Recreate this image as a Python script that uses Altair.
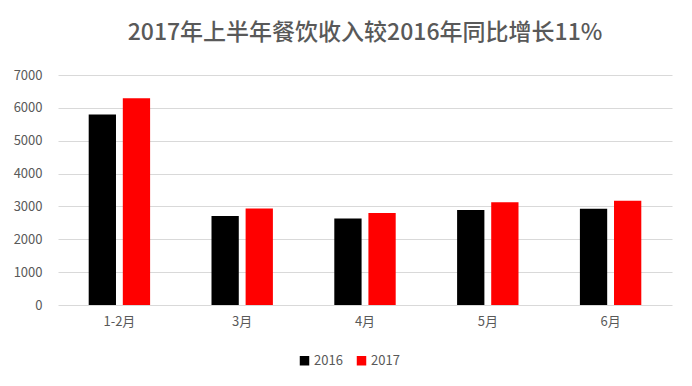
import altair as alt
import pandas as pd

months = ["1-2月", "3月", "4月", "5月", "6月"]
v2016 = [5800, 2710, 2630, 2890, 2930]
v2017 = [6290, 2940, 2800, 3130, 3170]
years = ["2016", "2017"]

rows = []
for i, m in enumerate(months):
    rows.append({"month": m, "year": years[0], "value": v2016[i]})
    rows.append({"month": m, "year": years[1], "value": v2017[i]})
df = pd.DataFrame(rows)

font = "Noto Sans CJK SC"
gray = "#595959"

chart = alt.Chart(df).mark_bar().encode(
    x=alt.X("month:N", sort=months,
            scale=alt.Scale(paddingInner=0.5, paddingOuter=0.25),
            axis=alt.Axis(title=None, labelAngle=0, ticks=False, domain=False,
                          labelPadding=10, grid=False,
                          labelFontSize=13, labelColor=gray, labelFont=font)),
    xOffset=alt.XOffset("year:N", sort=years, scale=alt.Scale(paddingInner=0.2)),
    y=alt.Y("value:Q", scale=alt.Scale(domain=[0, 7000]),
            axis=alt.Axis(title=None, values=[0, 1000, 2000, 3000, 4000, 5000, 6000, 7000],
                          format="d", ticks=False, domain=False, gridColor="#D9D9D9",
                          labelPadding=16, labelFontSize=13, labelColor=gray,
                          labelFont=font)),
    color=alt.Color("year:N", sort=years,
                    scale=alt.Scale(domain=years, range=["#000000", "#FF0000"]),
                    legend=alt.Legend(title=None, orient="none", direction="horizontal",
                                      legendX=240, legendY=279, symbolType="square",
                                      symbolSize=90, symbolStrokeWidth=0,
                                      labelFontSize=13, labelColor=gray, labelFont=font,
                                      columnPadding=12, labelOffset=3)),
).properties(
    width=614,
    height=230,
    background="white",
    view=alt.ViewBackground(stroke=None),
    title=alt.Title("2017年上半年餐饮收入较2016年同比增长11%", fontSize=23,
                    font=font, fontWeight=500, color=gray, offset=24,
                    anchor="middle"),
    autosize=alt.AutoSizeParams(type="none"),
    padding={"left": 50, "top": 67, "right": 12, "bottom": 65},
).configure_view(stroke=None)

chart.save("out.html", embed_options={"renderer": "svg", "actions": False})
